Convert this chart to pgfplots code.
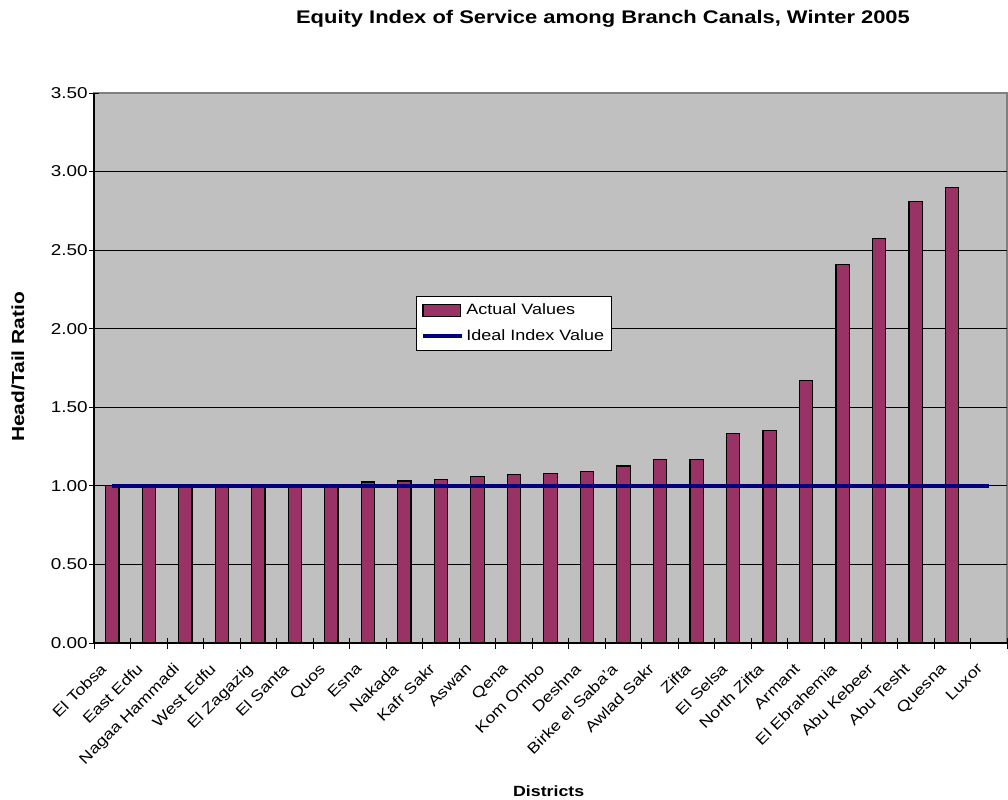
\documentclass[border=0pt]{standalone}
\usepackage{pgfplots}
\pgfplotsset{compat=1.18}
\usepackage{fontspec}
\setmainfont[FakeStretch=1.2]{Liberation Sans}
\definecolor{plum}{HTML}{993366}
\definecolor{navyb}{HTML}{000080}
\definecolor{silverbg}{HTML}{C0C0C0}
\definecolor{framegray}{HTML}{808080}
\begin{document}
\begin{tikzpicture}
\begin{axis}[
  at={(0,0)}, anchor=south west,
  scale only axis, width=684.75pt, height=412.5pt,
  xmin=-0.5, xmax=24.5, ymin=0, ymax=3.5,
  axis background/.style={fill=silverbg, draw=framegray, line width=1.2pt},
  axis x line*=bottom, axis y line*=left,
  axis line style={black, line width=0.8pt, -},
  ytick={0,0.5,1,1.5,2,2.5,3},
  extra y ticks={3.5}, extra y tick style={grid=none},
  ymajorgrids, grid style={black, line width=0.6pt},
  /pgf/number format/fixed, /pgf/number format/fixed zerofill,
  /pgf/number format/precision=2, /pgf/number format/assume math mode=true,
  yticklabel style={font=\fontsize{11.8}{13}\selectfont, xshift=2.5pt},
  xtick={0,...,24},
  xticklabels={El Tobsa, East Edfu, Nagaa Hammadi, West Edfu, El Zagazig, El Santa, Quos, Esna, Nakada, Kafr Sakr, Aswan, Qena, Kom Ombo, Deshna, Birke el Saba'a, Awlad Sakr, Zifta, El Selsa, North Zifta, Armant, El Ebrahemia, Abu Kebeer, Abu Tesht, Quesna, Luxor},
  xticklabel style={xshift=-9.5pt, yshift=-10.5pt, rotate=45, anchor=north east, inner sep=0pt, font=\fontsize{11.2}{13}\selectfont},
  minor xtick={-0.5,0.5,...,24.5},
  tick align=center,
  major tick length=7.5pt, minor tick length=8.25pt,
  major x tick style={draw=none},
  minor x tick style={black, line width=0.6pt},
  major y tick style={black, line width=0.6pt},
  title={Equity Index of Service among Branch Canals, Winter 2005},
  title style={at={(axis description cs:0.5575,1.12)}, anchor=center, font=\bfseries\fontsize{13.7}{16}\selectfont},
  xlabel={Districts},
  xlabel style={at={(axis description cs:0.498,-0.269)}, anchor=center, font=\bfseries\fontsize{11.1}{13}\selectfont},
  ylabel={Head/Tail Ratio},
  ylabel style={at={(axis description cs:-0.0832,0.502)}, anchor=center, font=\bfseries\fontsize{13.1}{15}\selectfont},
  legend style={at={(axis description cs:0.3527,0.6309)}, anchor=north west, draw=black, fill=white, line width=0.6pt, font=\fontsize{11.25}{13}\selectfont, inner sep=3.5pt, row sep=6pt},
  legend cell align=left,
]
\addplot[ybar, bar width=10pt, bar shift=0pt, fill=plum, draw=black, line width=0.9pt,
  legend image code/.code={\draw[fill=plum, draw=black, line width=0.9pt] (0pt,-4.5pt) rectangle (28pt,4.5pt);}]
  coordinates {(0,1.00) (1,1.00) (2,1.00) (3,1.00) (4,1.00) (5,1.00) (6,1.00) (7,1.025) (8,1.031) (9,1.042) (10,1.061) (11,1.074) (12,1.080) (13,1.091) (14,1.127) (15,1.167) (16,1.167) (17,1.332) (18,1.351) (19,1.668) (20,2.41) (21,2.572) (22,2.81) (23,2.90)};
\addlegendentry{Actual Values}
\addplot[navyb, line width=3pt, mark=none,
  legend image code/.code={\draw[navyb, line width=3pt] (0pt,0pt) -- (29pt,0pt);}]
  coordinates {(0,1) (1,1) (2,1) (3,1) (4,1) (5,1) (6,1) (7,1) (8,1) (9,1) (10,1) (11,1) (12,1) (13,1) (14,1) (15,1) (16,1) (17,1) (18,1) (19,1) (20,1) (21,1) (22,1) (23,1) (24,1)};
\addlegendentry{Ideal Index Value}
\end{axis}
\pgfresetboundingbox
\useasboundingbox (-70.5pt,-117.75pt) rectangle (685.5pt,482.25pt);
\end{tikzpicture}
\end{document}
